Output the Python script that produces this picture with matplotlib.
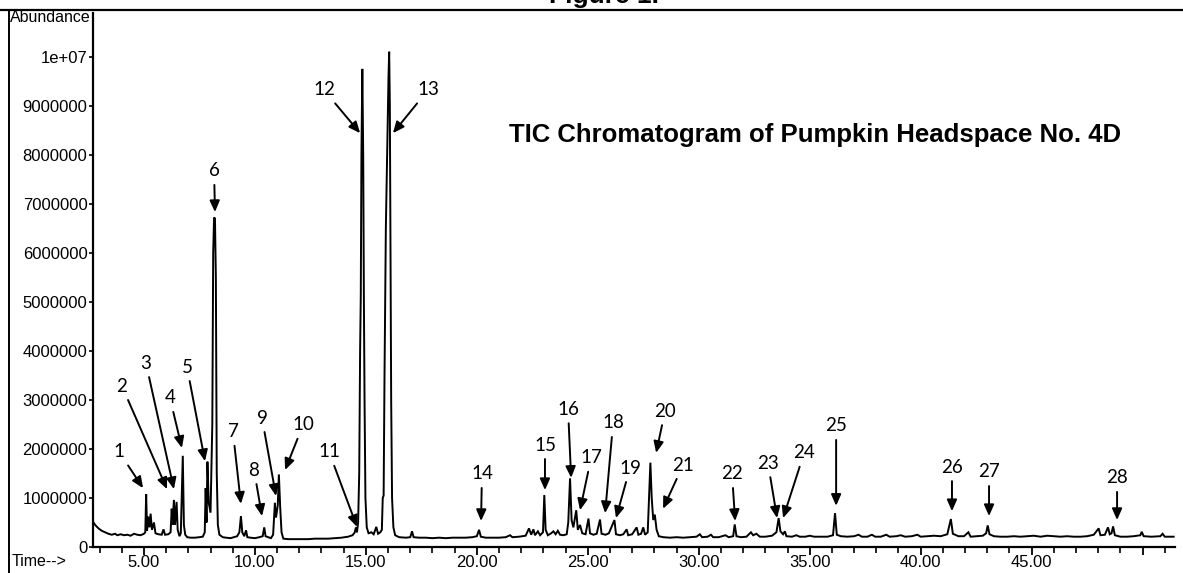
import numpy as np
import matplotlib
matplotlib.use("Agg")
import matplotlib.pyplot as plt
from matplotlib.lines import Line2D
from matplotlib.ticker import FuncFormatter, MultipleLocator, FixedLocator

# ---------------- data ----------------
times = [2.70, 2.80, 2.95, 3.10, 3.25, 3.40, 3.55, 3.70, 3.80, 3.95, 4.10, 4.25, 4.40, 4.55, 4.70, 4.85,
         5.00, 5.06, 5.10, 5.14, 5.20, 5.25, 5.30, 5.36, 5.45, 5.52, 5.65, 5.80, 5.88, 5.95, 6.10, 6.20,
         6.25, 6.29, 6.35, 6.40, 6.47, 6.52, 6.60, 6.66, 6.75, 6.80, 6.86, 6.95, 7.10, 7.30, 7.50, 7.65,
         7.74, 7.78, 7.82, 7.86, 7.92, 8.00, 8.08, 8.12, 8.16, 8.20, 8.24, 8.28, 8.33, 8.40, 8.55, 8.70,
         8.90, 9.05, 9.20, 9.30, 9.37, 9.43, 9.52, 9.60, 9.66, 9.80, 10.00, 10.20, 10.35, 10.42, 10.48,
         10.60, 10.72, 10.82, 10.90, 10.95, 11.03, 11.08, 11.14, 11.20, 11.28, 11.50, 11.80, 12.10, 12.40,
         12.70, 13.00, 13.30, 13.60, 13.90, 14.20, 14.40, 14.50, 14.55, 14.60, 14.65, 14.70, 14.74, 14.77,
         14.80, 14.84, 14.88, 14.91, 14.94, 14.98, 15.04, 15.12, 15.25, 15.35, 15.47, 15.55, 15.65, 15.72,
         15.76, 15.80, 15.84, 15.90, 15.96, 16.02, 16.05, 16.08, 16.11, 16.14, 16.18, 16.24, 16.32, 16.50,
         16.80, 17.00, 17.08, 17.15, 17.40, 17.70, 18.00, 18.30, 18.60, 18.90, 19.20, 19.50, 19.80, 20.00,
         20.10, 20.18, 20.40, 20.70, 21.00, 21.30, 21.50, 21.60, 21.90, 22.20, 22.35, 22.45, 22.55, 22.62,
         22.75, 22.85, 22.98, 23.04, 23.10, 23.20, 23.35, 23.45, 23.55, 23.65, 23.75, 23.90, 24.05, 24.12,
         24.20, 24.27, 24.35, 24.48, 24.55, 24.65, 24.75, 24.90, 25.03, 25.10, 25.25, 25.40, 25.55, 25.62,
         25.80, 25.95, 26.20, 26.27, 26.45, 26.60, 26.75, 26.82, 27.00, 27.20, 27.28, 27.40, 27.50, 27.58,
         27.70, 27.76, 27.82, 27.88, 27.95, 28.02, 28.10, 28.20, 28.40, 28.70, 29.00, 29.30, 29.60, 29.90,
         30.05, 30.15, 30.40, 30.55, 30.65, 30.90, 31.20, 31.35, 31.55, 31.62, 31.70, 31.90, 32.15, 32.35,
         32.45, 32.60, 32.75, 33.00, 33.30, 33.50, 33.60, 33.68, 33.80, 33.88, 33.95, 34.20, 34.40, 34.55,
         34.80, 35.00, 35.20, 35.50, 35.80, 36.05, 36.14, 36.22, 36.40, 36.70, 37.00, 37.20, 37.35, 37.60,
         37.80, 37.95, 38.20, 38.45, 38.60, 38.90, 39.10, 39.30, 39.60, 39.85, 40.00, 40.30, 40.60, 40.90,
         41.20, 41.36, 41.45, 41.70, 41.95, 42.15, 42.25, 42.50, 42.80, 42.95, 43.02, 43.10, 43.30, 43.60,
         43.90, 44.20, 44.50, 44.80, 45.10, 45.40, 45.70, 46.00, 46.30, 46.60, 46.90, 47.20, 47.50, 47.80,
         48.02, 48.10, 48.30, 48.44, 48.52, 48.60, 48.67, 48.75, 49.00, 49.30, 49.60, 49.90, 49.96, 50.05,
         50.40, 50.80, 50.90, 51.00, 51.40]

abundance_M = [0.52, 0.45, 0.38, 0.33, 0.30, 0.27, 0.25, 0.27, 0.24, 0.26, 0.24, 0.25, 0.23, 0.27, 0.25, 0.24,
               0.27, 0.30, 1.08, 0.33, 0.62, 0.40, 0.68, 0.35, 0.50, 0.28, 0.26, 0.25, 0.36, 0.25, 0.26, 0.30,
               0.78, 0.45, 0.96, 0.45, 0.92, 0.35, 0.22, 0.28, 1.86, 0.45, 0.25, 0.20, 0.19, 0.19, 0.20, 0.21,
               0.30, 1.20, 0.50, 1.74, 0.90, 0.70, 2.50, 6.00, 6.72, 6.70, 5.50, 1.50, 0.45, 0.25, 0.20, 0.19,
               0.18, 0.20, 0.22, 0.30, 0.63, 0.30, 0.22, 0.34, 0.20, 0.19, 0.18, 0.20, 0.22, 0.40, 0.22,
               0.20, 0.18, 0.25, 0.90, 0.60, 0.85, 1.48, 0.80, 0.30, 0.17, 0.16, 0.16, 0.16, 0.16,
               0.17, 0.17, 0.17, 0.18, 0.19, 0.21, 0.24, 0.30, 0.40, 0.30, 0.50, 1.50, 4.00, 5.10,
               8.00, 9.75, 8.00, 5.10, 3.00, 1.00, 0.40, 0.28, 0.30, 0.26, 0.41, 0.27, 0.30, 0.35,
               1.00, 1.05, 3.50, 6.50, 8.00, 9.60, 10.10, 9.00, 6.00, 3.00, 1.00, 0.40, 0.24, 0.20,
               0.19, 0.20, 0.32, 0.20, 0.19, 0.19, 0.18, 0.19, 0.18, 0.19, 0.19, 0.19, 0.20, 0.22,
               0.35, 0.21, 0.19, 0.19, 0.19, 0.20, 0.24, 0.20, 0.21, 0.23, 0.38, 0.25, 0.36, 0.24,
               0.32, 0.24, 0.30, 1.06, 0.35, 0.24, 0.28, 0.32, 0.26, 0.33, 0.25, 0.24, 0.26, 0.50,
               1.40, 0.55, 0.40, 0.75, 0.35, 0.45, 0.28, 0.26, 0.58, 0.28, 0.25, 0.27, 0.56, 0.27,
               0.25, 0.28, 0.55, 0.26, 0.24, 0.26, 0.36, 0.24, 0.26, 0.40, 0.25, 0.27, 0.40, 0.25,
               0.30, 1.00, 1.72, 1.00, 0.55, 0.66, 0.35, 0.22, 0.20, 0.19, 0.20, 0.19, 0.20, 0.21,
               0.26, 0.20, 0.21, 0.25, 0.20, 0.20, 0.24, 0.20, 0.22, 0.46, 0.22, 0.20, 0.21, 0.30,
               0.24, 0.27, 0.21, 0.21, 0.23, 0.30, 0.59, 0.32, 0.26, 0.32, 0.22, 0.21, 0.24, 0.21,
               0.21, 0.23, 0.21, 0.21, 0.21, 0.24, 0.69, 0.25, 0.22, 0.21, 0.22, 0.25, 0.21, 0.21,
               0.25, 0.21, 0.21, 0.25, 0.21, 0.22, 0.24, 0.21, 0.22, 0.25, 0.21, 0.22, 0.23, 0.22,
               0.26, 0.57, 0.27, 0.22, 0.22, 0.30, 0.21, 0.22, 0.23, 0.28, 0.44, 0.26, 0.22, 0.21,
               0.21, 0.22, 0.21, 0.22, 0.23, 0.21, 0.23, 0.22, 0.21, 0.22, 0.21, 0.21, 0.22, 0.25,
               0.38, 0.24, 0.25, 0.40, 0.26, 0.28, 0.42, 0.24, 0.21, 0.21, 0.22, 0.24, 0.31, 0.22,
               0.21, 0.22, 0.27, 0.21, 0.21]

# peak labels: number, text position (time, abundance M), arrow tip (time, abundance M)
peak_ids = [str(i) for i in range(1, 29)]
label_t = [3.88, 4.01, 5.09, 6.17, 6.94, 8.16, 9.01, 9.96, 10.32, 12.17, 13.34, 13.11, 17.80, 20.23,
           23.07, 24.11, 25.15, 26.14, 26.90, 28.48, 29.29, 31.50, 33.12, 34.75, 36.19, 41.41, 43.08, 48.85]
label_v = [1.94, 3.28, 3.75, 3.04, 3.67, 7.67, 2.35, 1.57, 2.63, 2.49, 1.94, 9.32, 9.32, 1.49,
           2.08, 2.81, 1.82, 2.53, 1.61, 2.77, 1.67, 1.49, 1.71, 1.92, 2.47, 1.63, 1.53, 1.41]
tip_t = [4.96, 6.04, 6.35, 6.71, 7.75, 8.20, 9.37, 10.32, 10.95, 11.36, 14.60, 14.74, 16.22, 20.19,
         23.07, 24.25, 24.65, 25.78, 26.27, 28.08, 28.39, 31.64, 33.53, 33.80, 36.19, 41.41, 43.08, 48.85]
tip_v = [1.20, 1.18, 1.18, 2.02, 1.75, 6.83, 0.88, 0.63, 1.04, 1.57, 0.41, 8.44, 8.44, 0.53,
         1.16, 1.41, 0.75, 0.69, 0.59, 1.92, 0.78, 0.53, 0.59, 0.59, 0.84, 0.73, 0.63, 0.55]

x_major = [5, 10, 15, 20, 25, 30, 35, 40, 45, 50]
x_labels = ["5.00", "10.00", "15.00", "20.00", "25.00", "30.00", "35.00", "40.00", "45.00", ""]
y_ticks = [0, 1e6, 2e6, 3e6, 4e6, 5e6, 6e6, 7e6, 8e6, 9e6, 1e7]

chart_title = "TIC Chromatogram of Pumpkin Headspace No. 4D"

# ---------------- figure ----------------
W, H = 1183, 573
fig = plt.figure(figsize=(W / 100, H / 100), dpi=100)
ax = fig.add_axes([93 / W, 26 / H, (1175 - 93) / W, (547 - 13) / H])

ax.plot(times, np.array(abundance_M) * 1e6, color="black", lw=1.4, solid_joinstyle="miter")

ax.set_xlim(2.704, 51.46)
ax.set_ylim(0, 10.89e6)

for s in ["top", "right"]:
    ax.spines[s].set_visible(False)
for s in ["left", "bottom"]:
    ax.spines[s].set_linewidth(1.6)

tick_font = dict(family="Liberation Sans", size=12)
ax.xaxis.set_major_locator(FixedLocator(x_major))
ax.set_xticklabels(x_labels, **tick_font)
ax.xaxis.set_minor_locator(MultipleLocator(1))
ax.tick_params(axis="x", which="major", length=6, width=1.3, pad=0, direction="out")
ax.tick_params(axis="x", which="minor", length=4, width=1.2, direction="out")

ax.set_yticks(y_ticks)
ax.yaxis.set_major_formatter(FuncFormatter(lambda v, p: "1e+07" if v >= 1e7 else f"{int(round(v))}"))
for lab in ax.get_yticklabels():
    lab.set_fontfamily("Liberation Sans")
    lab.set_fontsize(12)
ax.tick_params(axis="y", which="major", length=3, width=1.2, pad=1, direction="out")

# peak annotations
for pid, lt, lv, tt, tv in zip(peak_ids, label_t, label_v, tip_t, tip_v):
    ax.annotate(pid, xy=(tt, tv * 1e6), xytext=(lt, lv * 1e6),
                ha="center", va="center", fontsize=13.5, family="Lato",
                arrowprops=dict(arrowstyle="-|>,head_length=0.5,head_width=0.22",
                                color="black", lw=1.4, shrinkA=2, shrinkB=0))

ax.text(35.24, 8.40e6, chart_title, ha="center", va="center", fontsize=18.5,
        fontweight="bold", family="Liberation Sans")

# figure texts / frame
fig.text(10 / W, 1 - 17 / H, "Abundance", ha="left", va="center", fontsize=11.5, family="Liberation Sans")
fig.text(12 / W, (H - 562) / H, "Time-->", ha="left", va="center", fontsize=11.5, family="Liberation Sans")
fig.text(604 / W, 1 - 3 / H, "Figure 1.", ha="center", va="baseline", fontsize=19,
         fontweight="bold", family="Liberation Sans")

fig.add_artist(Line2D([0, 1], [1 - 10 / H, 1 - 10 / H], transform=fig.transFigure, color="black", lw=1.6))
fig.add_artist(Line2D([9 / W, 9 / W], [0, 1 - 10 / H], transform=fig.transFigure, color="black", lw=1.4))

fig.savefig("out.png", dpi=100)
